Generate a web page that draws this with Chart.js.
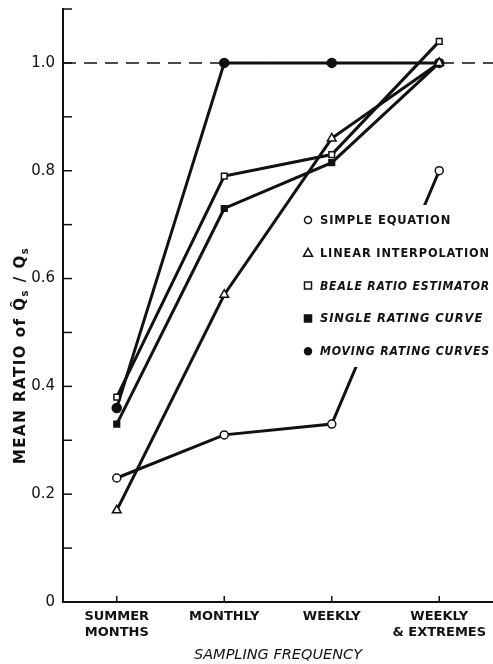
<!DOCTYPE html>
<html lang="en">
<head>
<meta charset="utf-8">
<title>Mean ratio by sampling frequency</title>
<script src="https://cdn.jsdelivr.net/npm/chart.js@4.4.1/dist/chart.umd.min.js"></script>
<style>
  html, body { margin: 0; padding: 0; background: #fff; }
  #wrap { width: 493px; height: 664px; }
</style>
</head>
<body>
<div id="wrap"><canvas id="ratioChart"></canvas></div>
<script>
// categories on the x axis
const frequencies = [["SUMMER", "MONTHS"], "MONTHLY", "WEEKLY", ["WEEKLY", "& EXTREMES"]];

const simpleEquation = [0.23, 0.31, 0.33, 0.80];
const linearInterp = [0.17, 0.57, 0.86, 1.00];
const bealeRatio = [0.38, 0.79, 0.83, 1.04];
const singleRating = [0.33, 0.73, 0.815, 1.00];
const movingRating = [0.36, 1.00, 1.00, 1.00];

const seriesNames = ["SIMPLE EQUATION", "LINEAR INTERPOLATION", "BEALE RATIO ESTIMATOR",
                     "SINGLE RATING CURVE", "MOVING RATING CURVES"];
const yLabelled = [0, 0.2, 0.4, 0.6, 0.8, 1.0];

const ink = "#111";
const base = { borderColor: ink, borderWidth: 3, pointBorderColor: ink, pointBorderWidth: 1.5, tension: 0 };

// draws inside tick marks, the dashed 1.0 reference and the y title
const decorations = {
  id: "decorations",
  afterDatasetsDraw(chart) {
    const { ctx, chartArea: a, scales: { x, y } } = chart;
    ctx.save();
    ctx.strokeStyle = ink;
    ctx.lineWidth = 1.5;
    y.ticks.forEach(t => {
      const py = y.getPixelForValue(t.value);
      ctx.beginPath(); ctx.moveTo(a.left, py); ctx.lineTo(a.left + 9, py); ctx.stroke();
    });
    x.ticks.forEach((t, i) => {
      const px = x.getPixelForTick(i);
      ctx.beginPath(); ctx.moveTo(px, a.bottom); ctx.lineTo(px, a.bottom - 6); ctx.stroke();
    });
    // dashed 1.0 line
    ctx.setLineDash([13, 8]);
    const p1 = y.getPixelForValue(1.0);
    ctx.beginPath(); ctx.moveTo(a.left, p1); ctx.lineTo(a.right, p1); ctx.stroke();
    ctx.setLineDash([]);

    // y axis title with hat and subscripts
    ctx.translate(20, (a.top + a.bottom) / 2 + 50);
    ctx.rotate(-Math.PI / 2);
    ctx.fillStyle = ink;
    ctx.textBaseline = "alphabetic";
    ctx.letterSpacing = "1.5px";
    const parts = [["MEAN RATIO ", 15, 0], ["of ", 15, 0], ["Q\u0302", 15, 0], ["s", 10, 3], [" / ", 15, 0], ["Q", 15, 0], ["s", 10, 3]];
    let w = 0;
    parts.forEach(p => { ctx.font = "bold " + p[1] + "px 'DejaVu Sans'"; w += ctx.measureText(p[0]).width; });
    let cx = -w / 2;
    parts.forEach(p => {
      ctx.font = "bold " + p[1] + "px 'DejaVu Sans'";
      ctx.fillText(p[0], cx, 5 + p[2]);
      cx += ctx.measureText(p[0]).width;
    });
    ctx.restore();
  }
};

// legend drawn inside the plot on a white patch (it interrupts the lines)
const insideLegend = {
  id: "insideLegend",
  afterDatasetsDraw(chart) {
    const { ctx } = chart;
    const left = 300, top = 205, rowH = 32.8;
    ctx.save();
    ctx.fillStyle = "#fff";
    ctx.fillRect(left, top, 493 - left, 162);
    chart.data.datasets.forEach((ds, i) => {
      const cy = top + 15 + i * rowH;
      const mx = left + 8;
      ctx.lineWidth = 1.5;
      ctx.strokeStyle = ink;
      ctx.fillStyle = ds.pointBackgroundColor;
      ctx.beginPath();
      if (ds.pointStyle === "circle") ctx.arc(mx, cy, 3.5, 0, Math.PI * 2);
      else if (ds.pointStyle === "rect") ctx.rect(mx - 3.5, cy - 3.5, 7, 7);
      else { ctx.moveTo(mx, cy - 4.5); ctx.lineTo(mx + 4.5, cy + 3.5); ctx.lineTo(mx - 4.5, cy + 3.5); ctx.closePath(); }
      ctx.fill(); ctx.stroke();
      ctx.fillStyle = ink;
      ctx.font = (i >= 2 ? "italic " : "") + "bold 11.5px 'DejaVu Sans'";
      ctx.letterSpacing = "0.9px";
      ctx.textBaseline = "middle";
      ctx.fillText(ds.label, left + 20, cy + 1, 170);
    });
    ctx.restore();
  }
};

new Chart("ratioChart", {
  type: "line",
  data: {
    labels: frequencies,
    datasets: [
      { ...base, label: seriesNames[0], data: simpleEquation, pointStyle: "circle", pointRadius: 4, pointBackgroundColor: "#fff" },
      { ...base, label: seriesNames[1], data: linearInterp, pointStyle: "triangle", pointRadius: 5, pointBackgroundColor: "#fff" },
      { ...base, label: seriesNames[2], data: bealeRatio, pointStyle: "rect", pointRadius: 4, pointBackgroundColor: "#fff" },
      { ...base, label: seriesNames[3], data: singleRating, pointStyle: "rect", pointRadius: 4, pointBackgroundColor: ink },
      { ...base, label: seriesNames[4], data: movingRating, pointStyle: "circle", pointRadius: 4.5, pointBackgroundColor: ink }
    ]
  },
  options: {
    responsive: true,
    maintainAspectRatio: false,
    animation: false,
    layout: { autoPadding: false, padding: { top: 9, right: 0, left: 0, bottom: 0 } },
    plugins: {
      legend: { display: false },
      tooltip: { enabled: false }
    },
    scales: {
      x: {
        type: "category",
        offset: true,
        grid: { display: false, drawTicks: false },
        border: { display: true, color: ink, width: 2 },
        ticks: { color: ink, font: { family: "'DejaVu Sans'", size: 13, weight: "bold" }, padding: 7, maxRotation: 0 },
        title: { display: true, text: "SAMPLING FREQUENCY", color: ink, padding: { top: 4, bottom: 0 },
                 font: { family: "'DejaVu Sans'", size: 14.5, style: "italic" } },
        afterFit(s) { s.height = 62; s.paddingLeft = 0; s.paddingRight = 0; }
      },
      y: {
        min: 0,
        max: 1.1,
        grid: { display: false, drawTicks: false },
        border: { display: true, color: ink, width: 2 },
        ticks: {
          stepSize: 0.1,
          color: ink,
          padding: 8,
          font: { family: "'DejaVu Sans'", size: 15 },
          callback(v) {
            const r = Math.round(v * 10) / 10;
            if (!yLabelled.some(t => Math.abs(t - r) < 1e-6)) return "";
            return r === 0 ? "0" : r.toFixed(1);
          }
        },
        afterFit(s) { s.width = 63; s.paddingTop = 0; s.paddingBottom = 0; }
      }
    }
  },
  plugins: [decorations, insideLegend]
});
</script>
</body>
</html>
